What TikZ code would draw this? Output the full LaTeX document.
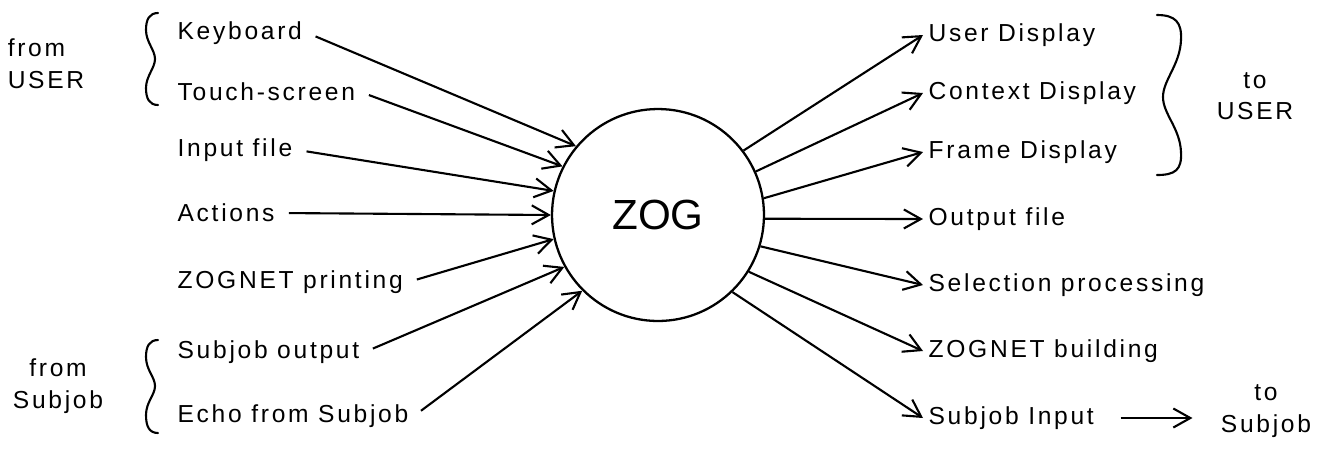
\documentclass[tikz,border=0pt]{standalone}
\usepackage{fontspec}
\setmainfont{Liberation Sans}
\newfontfamily\plotfont{Liberation Sans}[LetterSpace=11]
\usetikzlibrary{arrows.meta, positioning}

\begin{document}
\begin{tikzpicture}[
  x=0.02cm, y=-0.02cm,
  item/.style={font=\plotfont\fontsize{14}{18}\selectfont, anchor=west, inner sep=3pt},
  group/.style={font=\plotfont\fontsize{14}{18}\selectfont, align=center, inner sep=0pt},
  hub/.style={circle, draw, line width=1.3pt, minimum size=4.24cm, inner sep=0pt, font=\fontsize{24}{28}\selectfont},
  arrow/.style={-{Straight Barb[length=3.4mm, width=3.8mm]}, line width=1.2pt},
  feed/.style={arrow, shorten <=5pt},
  curly/.style={line width=1.2pt, line cap=round},
]
\useasboundingbox (0,0) rectangle (1332,451);

% Centre
\node[hub] (zog) at (658,215) {ZOG};

% Inputs
\node[item] (kb)   at (172,33)  {Keyboard};
\node[item] (ts)   at (172,92)  {Touch-screen};
\node[item] (inf)  at (172,150) {Input file};
\node[item] (act)  at (172,213) {Actions};
\node[item] (zp)   at (172,282) {ZOGNET printing};
\node[item] (so)   at (172,352) {Subjob output};
\node[item] (echo) at (172,416) {Echo from Subjob};

% Outputs
\node[item] (ud) at (923,35)  {User Display};
\node[item] (cd) at (923,93)  {Context Display};
\node[item] (fd) at (923,152) {Frame Display};
\node[item] (of) at (923,219) {Output file};
\node[item] (sp) at (923,285) {Selection processing};
\node[item] (zb) at (923,351) {ZOGNET building};
\node[item] (si) at (923,418) {Subjob Input};

% Sources and sinks
\node[group, align=left] (fromuser) at (46,64)  {from\\USER};
\node[group] (fromsub) at (58,386)  {from\\Subjob};
\node[group] (touser)  at (1255,96) {to\\USER};
\node[group] (tosub)   at (1266,411) {to\\Subjob};

% Braces
\draw[curly] (158,13) .. controls (149,13) and (146,20) .. (146,30)
  .. controls (146,42) and (155,50) .. (155,59)
  .. controls (155,68) and (146,76) .. (146,88)
  .. controls (146,98) and (149,105) .. (158,105);
\draw[curly] (158,340) .. controls (149,340) and (146,347) .. (146,357)
  .. controls (146,370) and (155,377) .. (155,386)
  .. controls (155,395) and (146,402) .. (146,415)
  .. controls (146,426) and (149,433) .. (158,433);
\draw[curly] (1157,15) .. controls (1175,15) and (1182,22) .. (1181,40)
  .. controls (1180,65) and (1163,80) .. (1163,97)
  .. controls (1163,114) and (1180,128) .. (1181,152)
  .. controls (1182,170) and (1175,175) .. (1157,175);

% Flows in
\draw[feed] (kb.east)   -- (zog.140.7);
\draw[feed] (ts.east)   -- (zog.153.2);
\draw[feed] (inf.east)  -- (zog.167.4);
\draw[feed] (act.east)  -- (zog.180);
\draw[feed] (zp.east)   -- (zog.193.9);
\draw[feed] (so.east)   -- (zog.209.2);
\draw[feed] (echo.east) -- (zog.225.4);

% Flows out
\draw[arrow] (zog.37.4)  -- (ud.west);
\draw[arrow] (zog.24)    -- (cd.west);
\draw[arrow] (zog.9.7)   -- (fd.west);
\draw[arrow] (zog.-2)    -- (of.west);
\draw[arrow] (zog.-17.9) -- (sp.west);
\draw[arrow] (zog.-32.2) -- (zb.west);
\draw[arrow] (zog.-46)   -- (si.west);
\draw[arrow, shorten <=12pt, shorten >=16pt] (si.east) -- (si.east -| tosub.west);

\end{tikzpicture}
\end{document}
